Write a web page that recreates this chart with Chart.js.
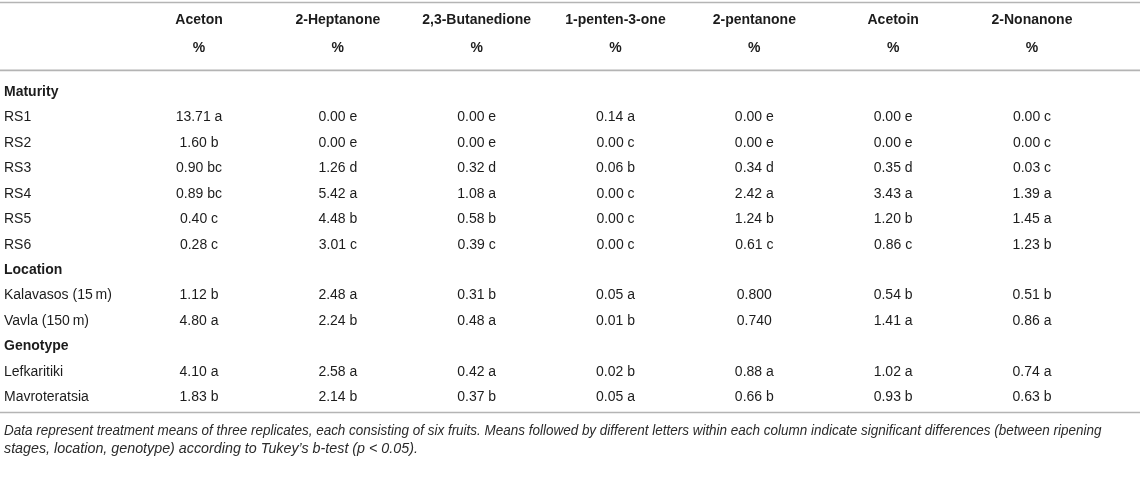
<!DOCTYPE html>
<html>
<head>
<meta charset="utf-8">
<script src="https://cdn.jsdelivr.net/npm/chart.js@4/dist/chart.umd.min.js"></script>
<style>
  html, body { margin: 0; padding: 0; background: #ffffff; }
  #wrap { width: 1143px; height: 478px; position: relative; }
</style>
</head>
<body>
<div id="wrap"><canvas id="c"></canvas></div>
<script>
// ---- Data ----
const columns = ['Aceton', '2-Heptanone', '2,3-Butanedione', '1-penten-3-one', '2-pentanone', 'Acetoin', '2-Nonanone'];
const unitLabel = '%';
const rows = ['Maturity', 'RS1', 'RS2', 'RS3', 'RS4', 'RS5', 'RS6',
              'Location', 'Kalavasos (15\u2009m)', 'Vavla (150\u2009m)',
              'Genotype', 'Lefkaritiki', 'Mavroteratsia'];
const sectionRows = ['Maturity', 'Location', 'Genotype'];

const acetonValues      = [null, 13.71, 1.60, 0.90, 0.89, 0.40, 0.28, null, 1.12, 4.80, null, 4.10, 1.83];
const acetonLetters     = ['', 'a', 'b', 'bc', 'bc', 'c', 'c', '', 'b', 'a', '', 'a', 'b'];
const heptanoneValues   = [null, 0.00, 0.00, 1.26, 5.42, 4.48, 3.01, null, 2.48, 2.24, null, 2.58, 2.14];
const heptanoneLetters  = ['', 'e', 'e', 'd', 'a', 'b', 'c', '', 'a', 'b', '', 'a', 'b'];
const butanedioneValues = [null, 0.00, 0.00, 0.32, 1.08, 0.58, 0.39, null, 0.31, 0.48, null, 0.42, 0.37];
const butanedioneLetters= ['', 'e', 'e', 'd', 'a', 'b', 'c', '', 'b', 'a', '', 'a', 'b'];
const pentenoneValues   = [null, 0.14, 0.00, 0.06, 0.00, 0.00, 0.00, null, 0.05, 0.01, null, 0.02, 0.05];
const pentenoneLetters  = ['', 'a', 'c', 'b', 'c', 'c', 'c', '', 'a', 'b', '', 'b', 'a'];
const pentanoneValues   = [null, 0.00, 0.00, 0.34, 2.42, 1.24, 0.61, null, 0.800, 0.740, null, 0.88, 0.66];
const pentanoneLetters  = ['', 'e', 'e', 'd', 'a', 'b', 'c', '', '', '', '', 'a', 'b'];
const pentanoneDecimals = [2, 2, 2, 2, 2, 2, 2, 2, 3, 3, 2, 2, 2];
const acetoinValues     = [null, 0.00, 0.00, 0.35, 3.43, 1.20, 0.86, null, 0.54, 1.41, null, 1.02, 0.93];
const acetoinLetters    = ['', 'e', 'e', 'd', 'a', 'b', 'c', '', 'b', 'a', '', 'a', 'b'];
const nonanoneValues    = [null, 0.00, 0.00, 0.03, 1.39, 1.45, 1.23, null, 0.51, 0.86, null, 0.74, 0.63];
const nonanoneLetters   = ['', 'c', 'c', 'c', 'a', 'a', 'b', '', 'b', 'a', '', 'a', 'b'];

const footnote = [
  'Data represent treatment means of three replicates, each consisting of six fruits. Means followed by different letters within each column indicate significant differences (between ripening',
  'stages, location, genotype) according to Tukey\u2019s b-test (p < 0.05).'
];

// ---- Build datasets ----
const seriesValues  = [acetonValues, heptanoneValues, butanedioneValues, pentenoneValues, pentanoneValues, acetoinValues, nonanoneValues];
const seriesLetters = [acetonLetters, heptanoneLetters, butanedioneLetters, pentenoneLetters, pentanoneLetters, acetoinLetters, nonanoneLetters];
const seriesDecimals = [null, null, null, null, pentanoneDecimals, null, null];

const datasets = columns.map((col, ci) => {
  const data = [];
  rows.forEach((r, ri) => {
    const v = seriesValues[ci][ri];
    if (v === null) return;
    const dec = seriesDecimals[ci] ? seriesDecimals[ci][ri] : 2;
    const letter = seriesLetters[ci][ri];
    data.push({ x: col, y: r, text: v.toFixed(dec) + (letter ? ' ' + letter : '') });
  });
  return { label: col, data: data, pointRadius: 0, pointHoverRadius: 0, showLine: false };
});

const TEXT = '#1c1c1c';
const RULE = '#b4b4b4';
const FONT = "'Liberation Sans', Arial, Helvetica, sans-serif";
const HEADER_HEIGHT = 73.3;

const tablePlugin = {
  id: 'tablePlugin',
  afterDatasetsDraw(chart) {
    const ctx = chart.ctx;
    ctx.save();
    ctx.font = '14px ' + FONT;
    ctx.fillStyle = TEXT;
    ctx.textAlign = 'center';
    ctx.textBaseline = 'middle';
    chart.data.datasets.forEach((ds, di) => {
      const meta = chart.getDatasetMeta(di);
      meta.data.forEach((el, i) => {
        ctx.fillText(ds.data[i].text, el.x, el.y);
      });
    });
    ctx.restore();
  },
  afterDraw(chart) {
    const ctx = chart.ctx;
    const xs = chart.scales.x;
    const area = chart.chartArea;
    ctx.save();
    ctx.strokeStyle = RULE;
    ctx.lineWidth = 1.7;
    const rules = [2.5, xs.bottom - 9, area.bottom + 2.5];
    rules.forEach(y => {
      ctx.beginPath();
      ctx.moveTo(0, y);
      ctx.lineTo(chart.width - 3, y);
      ctx.stroke();
    });
    ctx.restore();
  }
};

new Chart(document.getElementById('c'), {
  type: 'scatter',
  data: { datasets: datasets },
  plugins: [tablePlugin],
  options: {
    responsive: true,
    maintainAspectRatio: false,
    animation: false,
    events: [],
    layout: { padding: { left: 4, right: 41.6, top: 6, bottom: 0 } },
    plugins: {
      legend: { display: false },
      tooltip: { enabled: false },
      title: {
        display: true,
        position: 'bottom',
        align: 'start',
        text: footnote,
        color: '#2a2a2a',
        font: { family: FONT, size: 14.3, style: 'italic', weight: 'normal', lineHeight: '18px' },
        padding: { top: 12, bottom: 20 }
      }
    },
    scales: {
      x: {
        type: 'category',
        labels: columns,
        position: 'top',
        offset: true,
        grid: { display: false, drawTicks: false, tickLength: 0 },
        border: { display: false },
        afterFit: (scale) => { scale.height = HEADER_HEIGHT; },
        ticks: {
          autoSkip: false,
          maxRotation: 0,
          minRotation: 0,
          padding: 17.3,
          color: TEXT,
          font: { family: FONT, size: 14, weight: 'bold', lineHeight: '28px' },
          callback: function (value, index) { return [columns[index], unitLabel]; }
        }
      },
      y: {
        type: 'category',
        labels: rows,
        position: 'left',
        offset: true,
        grid: { display: false, drawTicks: false, tickLength: 0 },
        border: { display: false },
        afterFit: (scale) => { scale.width = 125.6; },
        ticks: {
          autoSkip: false,
          crossAlign: 'far',
          padding: 0,
          color: TEXT,
          font: (c) => ({
            family: FONT,
            size: 14,
            weight: (c.tick && sectionRows.includes(c.tick.label)) ? 'bold' : 'normal'
          })
        }
      }
    }
  }
});
</script>
</body>
</html>
